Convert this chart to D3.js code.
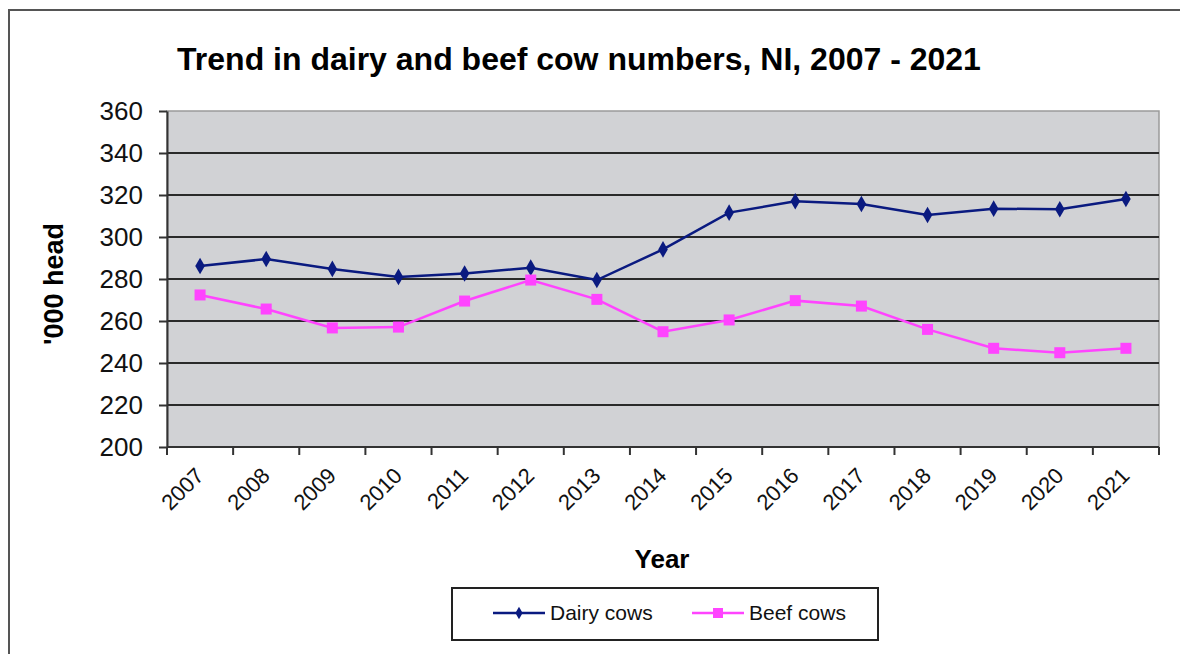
<!DOCTYPE html>
<html>
<head>
<meta charset="utf-8">
<script src="https://cdn.jsdelivr.net/npm/d3@7"></script>
<style>
  html, body { margin: 0; padding: 0; background: #fff; }
  svg { display: block; font-family: "Liberation Sans", Arial, sans-serif; }
</style>
</head>
<body>
<svg id="chart" width="1180" height="654"></svg>
<script>
// Cow numbers in Northern Ireland ('000 head)
const years = ["2007","2008","2009","2010","2011","2012","2013","2014","2015","2016","2017","2018","2019","2020","2021"];
const dairyCows = [286.2, 289.5, 284.8, 281.0, 282.6, 285.4, 279.5, 294.1, 311.6, 317.0, 315.7, 310.5, 313.5, 313.2, 318.1];
const beefCows  = [272.4, 265.7, 256.7, 257.1, 269.5, 279.5, 270.3, 254.9, 260.5, 269.7, 267.1, 256.0, 247.0, 244.9, 247.0];
const yTicks = [200, 220, 240, 260, 280, 300, 320, 340, 360];

const svg = d3.select("#chart");

// outer chart frame
svg.append("rect")
  .attr("x", 9).attr("y", 10).attr("width", 1190).attr("height", 680)
  .attr("fill", "#fff").attr("stroke", "#555").attr("stroke-width", 2);

const plot = { left: 167, right: 1159, top: 111, bottom: 447 };

const x = d3.scaleBand().domain(years).range([plot.left, plot.right]);
const y = d3.scaleLinear().domain([200, 360]).range([plot.bottom, plot.top]);

// plot background
svg.append("rect")
  .attr("x", plot.left).attr("y", plot.top)
  .attr("width", plot.right - plot.left).attr("height", plot.bottom - plot.top)
  .attr("fill", "#d1d2d5").attr("stroke", "#9a9a9a").attr("stroke-width", 1.5);

// horizontal gridlines
svg.append("g")
  .selectAll("line")
  .data(yTicks.filter(t => t > 200 && t < 360))
  .join("line")
  .attr("x1", plot.left).attr("x2", plot.right)
  .attr("y1", d => y(d)).attr("y2", d => y(d))
  .attr("stroke", "#2a2a2a").attr("stroke-width", 2.2);

// y axis
const yAxis = svg.append("g")
  .attr("transform", `translate(${plot.left},0)`)
  .call(d3.axisLeft(y).tickValues(yTicks).tickSize(8).tickPadding(16).tickSizeOuter(0));
yAxis.select(".domain").attr("stroke", "#333").attr("stroke-width", 2);
yAxis.selectAll(".tick line").attr("stroke", "#333").attr("stroke-width", 2);
yAxis.selectAll(".tick text")
  .attr("font-size", 26).attr("fill", "#111")
  .attr("font-family", "Liberation Sans, Arial, sans-serif");

// x axis: ticks on category boundaries
const bounds = years.map(d => x(d)).concat([plot.right]);
const xg = svg.append("g");
xg.append("line")
  .attr("x1", plot.left).attr("x2", plot.right)
  .attr("y1", plot.bottom).attr("y2", plot.bottom)
  .attr("stroke", "#333").attr("stroke-width", 2);
xg.selectAll("line.tick")
  .data(bounds)
  .join("line").attr("class", "tick")
  .attr("x1", d => d).attr("x2", d => d)
  .attr("y1", plot.bottom).attr("y2", plot.bottom + 8)
  .attr("stroke", "#333").attr("stroke-width", 2);
xg.selectAll("text")
  .data(years)
  .join("text")
  .attr("transform", d => `translate(${x(d) + x.bandwidth() / 2 + 5},${plot.bottom + 30}) rotate(-45)`)
  .attr("text-anchor", "end")
  .attr("font-size", 22).attr("fill", "#111")
  .text(d => d);

// series lines and markers
const line = d3.line()
  .x((d, i) => x(years[i]) + x.bandwidth() / 2)
  .y(d => y(d));

svg.append("path").datum(dairyCows)
  .attr("d", line).attr("fill", "none")
  .attr("stroke", "#0a1a80").attr("stroke-width", 2.5);
svg.append("path").datum(beefCows)
  .attr("d", line).attr("fill", "none")
  .attr("stroke", "#ff44ff").attr("stroke-width", 2.5);

const diamond = d3.symbol().type(d3.symbolDiamond).size(80);
svg.append("g").selectAll("path")
  .data(dairyCows)
  .join("path")
  .attr("d", diamond)
  .attr("transform", (d, i) => `translate(${x(years[i]) + x.bandwidth() / 2},${y(d)})`)
  .attr("fill", "#0a1a80");

svg.append("g").selectAll("rect")
  .data(beefCows)
  .join("rect")
  .attr("x", (d, i) => x(years[i]) + x.bandwidth() / 2 - 5.5)
  .attr("y", d => y(d) - 5.5)
  .attr("width", 11).attr("height", 11)
  .attr("fill", "#ff44ff");

// title and axis titles
svg.append("text")
  .attr("x", 579).attr("y", 70)
  .attr("text-anchor", "middle")
  .attr("font-size", 32).attr("font-weight", "bold").attr("fill", "#000")
  .text("Trend in dairy and beef cow numbers, NI, 2007 - 2021");

svg.append("text")
  .attr("transform", "translate(63,284) rotate(-90)")
  .attr("text-anchor", "middle")
  .attr("font-size", 27).attr("font-weight", "bold").attr("fill", "#000")
  .text("'000 head");

svg.append("text")
  .attr("x", 662).attr("y", 568)
  .attr("text-anchor", "middle")
  .attr("font-size", 26).attr("font-weight", "bold").attr("fill", "#000")
  .text("Year");

// legend
const legend = svg.append("g");
legend.append("rect")
  .attr("x", 452).attr("y", 588).attr("width", 426).attr("height", 52)
  .attr("fill", "#fff").attr("stroke", "#222").attr("stroke-width", 2);

const legendItems = [
  { name: "Dairy cows", color: "#0a1a80", shape: "diamond", x0: 493 },
  { name: "Beef cows", color: "#ff44ff", shape: "square", x0: 692 }
];
legendItems.forEach(item => {
  const g = legend.append("g");
  g.append("line")
    .attr("x1", item.x0).attr("x2", item.x0 + 52)
    .attr("y1", 613).attr("y2", 613)
    .attr("stroke", item.color).attr("stroke-width", 2.5);
  if (item.shape === "diamond") {
    g.append("path").attr("d", d3.symbol().type(d3.symbolDiamond).size(45))
      .attr("transform", `translate(${item.x0 + 26},613)`).attr("fill", item.color);
  } else {
    g.append("rect").attr("x", item.x0 + 21).attr("y", 608)
      .attr("width", 10).attr("height", 10).attr("fill", item.color);
  }
  g.append("text")
    .attr("x", item.x0 + 57).attr("y", 613).attr("dy", "0.35em")
    .attr("font-size", 21).attr("fill", "#111")
    .text(item.name);
});
</script>
</body>
</html>
